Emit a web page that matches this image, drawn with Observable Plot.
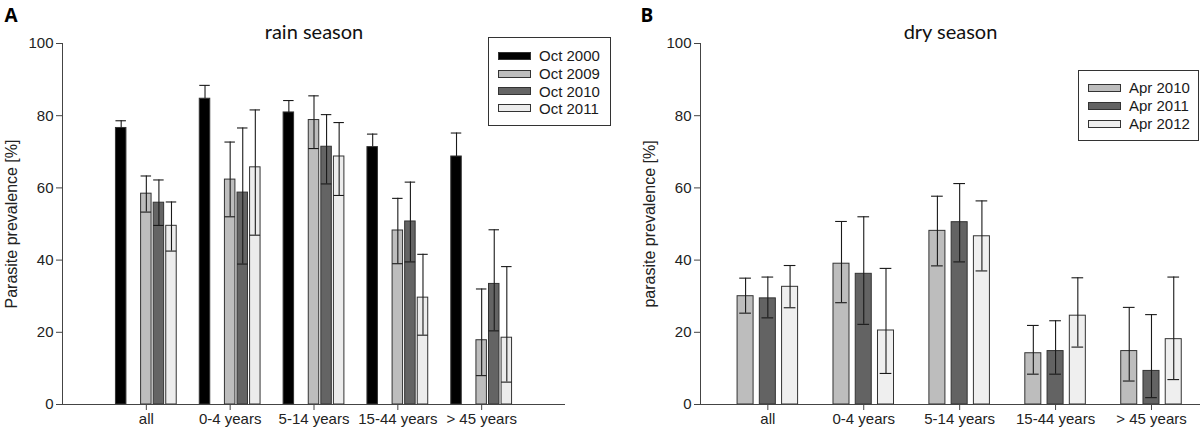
<!DOCTYPE html>
<html><head><meta charset="utf-8">
<script src="https://cdn.jsdelivr.net/npm/d3@7"></script>
<script src="https://cdn.jsdelivr.net/npm/@observablehq/plot@0.6"></script>
<style>
html,body{margin:0;padding:0;background:#fff;}
#wrap{position:relative;width:1200px;height:430px;overflow:hidden;font-family:"Liberation Sans",Arial,sans-serif;}
.panel{position:absolute;top:0;}
.legend{position:absolute;border:1px solid #333;background:#fff;box-sizing:border-box;}
.row{position:absolute;display:flex;align-items:center;height:17px;font-size:15px;line-height:17px;color:#1a1a1a;white-space:nowrap;}
.sw{height:8px;border:1px solid #333;box-sizing:border-box;}
</style></head>
<body><div id="wrap"></div>
<script>
// ---- data ----
const categories = ["all", "0-4 years", "5-14 years", "15-44 years", "> 45 years"];

const rainSeries = ["Oct 2000", "Oct 2009", "Oct 2010", "Oct 2011"];
const rainColors = ["#000000", "#bdbdbd", "#646464", "#ececec"];
const rain2000   = [76.6, 84.7, 80.9, 71.3, 68.7];
const rain2000Lo = [null, null, null, null, null];
const rain2000Hi = [78.6, 88.4, 84.2, 74.9, 75.2];
const rain2009   = [58.4, 62.3, 78.8, 48.2, 17.8];
const rain2009Lo = [53.3, 52.0, 70.9, 39.0, 8.0];
const rain2009Hi = [63.3, 72.7, 85.5, 57.1, 32.0];
const rain2010   = [55.9, 58.7, 71.4, 50.7, 33.4];
const rain2010Lo = [49.6, 38.9, 61.1, 39.5, 20.4];
const rain2010Hi = [62.2, 76.6, 80.3, 61.6, 48.4];
const rain2011   = [49.5, 65.7, 68.7, 29.6, 18.5];
const rain2011Lo = [42.5, 46.9, 57.9, 19.2, 6.2];
const rain2011Hi = [56.1, 81.6, 78.1, 41.6, 38.2];

const drySeries = ["Apr 2010", "Apr 2011", "Apr 2012"];
const dryColors = ["#bdbdbd", "#636363", "#efefef"];
const dry2010   = [30.0, 39.0, 48.1, 14.2, 14.8];
const dry2010Lo = [25.3, 28.2, 38.4, 8.4, 6.5];
const dry2010Hi = [35.0, 50.7, 57.7, 21.9, 26.9];
const dry2011   = [29.4, 36.2, 50.5, 14.8, 9.3];
const dry2011Lo = [24.0, 22.2, 39.5, 8.4, 1.9];
const dry2011Hi = [35.3, 52.0, 61.2, 23.2, 24.9];
const dry2012   = [32.6, 20.5, 46.6, 24.6, 18.1];
const dry2012Lo = [26.8, 8.6, 37.0, 15.9, 6.9];
const dry2012Hi = [38.5, 37.7, 56.4, 35.1, 35.3];

const yTicks = [0, 20, 40, 60, 80, 100];

// ---- layout (slot of each series inside a category group) ----
const rainSlots = [-2, 0, 1, 2];
const drySlots = [-1, 0, 1];

function buildRows(series, vals, los, his, slots, step) {
  return series.flatMap((s, j) => categories.map((c, i) => ({
    cat: c, series: s, value: vals[j][i], lo: los[j][i], hi: his[j][i],
    xc: (i + 1) + slots[j] * step
  })));
}

const rainRows = buildRows(rainSeries,
  [rain2000, rain2009, rain2010, rain2011],
  [rain2000Lo, rain2009Lo, rain2010Lo, rain2011Lo],
  [rain2000Hi, rain2009Hi, rain2010Hi, rain2011Hi], rainSlots, 0.15);
const dryRows = buildRows(drySeries,
  [dry2010, dry2011, dry2012],
  [dry2010Lo, dry2011Lo, dry2012Lo],
  [dry2010Hi, dry2011Hi, dry2012Hi], drySlots, 0.232);

function panel({rows, series, colors, xDomain, marginLeft, marginRight, bw, cw, title, letter, letterDx, ylabel}) {
  return Plot.plot({
    width: 600, height: 430,
    marginLeft, marginRight, marginTop: 43, marginBottom: 26,
    x: {domain: xDomain, axis: null},
    y: {domain: [0, 100], axis: null},
    color: {domain: series, range: colors},
    style: {fontFamily: "'Liberation Sans', Arial, sans-serif", fontSize: "15px", color: "#222", background: "transparent", overflow: "visible"},
    marks: [
      Plot.rectY(rows, {x1: d => d.xc - bw / 2, x2: d => d.xc + bw / 2, y1: 0, y2: "value", fill: "series", stroke: "#333", strokeWidth: 1}),
      Plot.ruleX(rows, {x: "xc", y1: d => d.lo ?? d.value, y2: "hi", stroke: "#1a1a1a", strokeWidth: 1.1}),
      Plot.ruleY(rows, {x1: d => d.xc - cw / 2, x2: d => d.xc + cw / 2, y: "hi", stroke: "#1a1a1a", strokeWidth: 1.1}),
      Plot.ruleY(rows.filter(d => d.lo != null), {x1: d => d.xc - cw / 2, x2: d => d.xc + cw / 2, y: "lo", stroke: "#1a1a1a", strokeWidth: 1.1}),
      Plot.ruleY([0], {stroke: "#444"}),
      Plot.ruleX([xDomain[0]], {y1: 0, y2: 100, stroke: "#444"}),
      Plot.axisY({ticks: yTicks, tickSize: 6, tickPadding: 3, stroke: "#444", label: null}),
      Plot.axisX({ticks: [1, 2, 3, 4, 5], tickFormat: d => categories[d - 1], tickSize: 6, tickPadding: 3, stroke: "#444", label: null}),
      Plot.text([ylabel], {text: d => d, frameAnchor: "left", textAnchor: "middle", lineAnchor: "middle", rotate: -90, dx: -51, fontSize: 16, fill: "#222"}),
      Plot.text([title], {text: d => d, frameAnchor: "top", textAnchor: "middle", lineAnchor: "middle", dy: -11.4, fontSize: 20, fontFamily: "Lato, 'Open Sans', sans-serif", fill: "#111"}),
      Plot.text([letter], {text: d => d, frameAnchor: "top-left", textAnchor: "start", lineAnchor: "middle", dx: letterDx, dy: -27.4, fontSize: 19, fontWeight: "bold", fontFamily: "'Open Sans', sans-serif", fill: "#000"})
    ]
  });
}

const wrap = document.getElementById("wrap");

const left = panel({rows: rainRows, series: rainSeries, colors: rainColors, xDomain: [0, 6],
  marginLeft: 62, marginRight: 35, bw: 0.125, cw: 0.125,
  title: "rain season", letter: "A", letterDx: -58, ylabel: "Parasite prevalence [%]"});
left.classList.add("panel"); left.style.left = "0px";
wrap.appendChild(left);

const right = panel({rows: dryRows, series: drySeries, colors: dryColors, xDomain: [0.298, 5.511],
  marginLeft: 100, marginRight: 0, bw: 0.167, cw: 0.122,
  title: "dry season", letter: "B", letterDx: -60, ylabel: "parasite prevalence [%]"});
right.classList.add("panel"); right.style.left = "600px";
wrap.appendChild(right);

// ---- legends ----
function legend(series, colors, box, rowsY, swX, swW, txtGap) {
  const b = document.createElement("div");
  b.className = "legend";
  Object.assign(b.style, {left: box[0] + "px", top: box[1] + "px", width: box[2] + "px", height: box[3] + "px"});
  wrap.appendChild(b);
  series.forEach((s, i) => {
    const r = document.createElement("div");
    r.className = "row";
    r.style.left = swX + "px";
    r.style.top = (rowsY[i] - 8.5) + "px";
    const sw = document.createElement("div");
    sw.className = "sw";
    sw.style.width = swW + "px";
    sw.style.background = colors[i];
    sw.style.marginRight = txtGap + "px";
    const t = document.createElement("span");
    t.textContent = s;
    r.appendChild(sw); r.appendChild(t);
    wrap.appendChild(r);
  });
}
legend(rainSeries, rainColors, [488, 37, 123, 89], [55.7, 73.9, 91.3, 108.2], 498, 33, 8);
legend(drySeries, dryColors, [1078, 70, 121, 71], [87.7, 105.6, 123.8], 1088, 33, 8);
</script>
</body></html>
